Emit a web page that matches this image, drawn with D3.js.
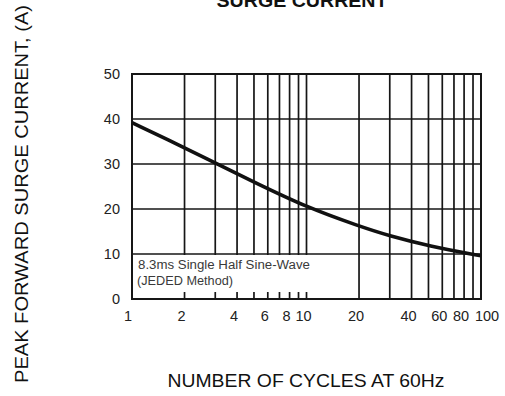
<!DOCTYPE html>
<html><head><meta charset="utf-8">
<script src="https://cdn.jsdelivr.net/npm/d3@7"></script>
<style>body{margin:0;background:#fff}svg{display:block}text{font-family:"Liberation Sans",Arial,sans-serif}</style>
</head><body><svg id="c" width="505" height="396"></svg>
<script>
const cycles = [1, 2, 3, 5, 10, 20, 30, 50, 100];
const current = [39.2, 33.6, 30.2, 26.0, 20.4, 16.2, 14.0, 11.8, 9.6];
const xGrid = [2,3,4,5,6,7,8,9,10,20,30,40,50,60,70,80,90];
const xTickLabels = [1,2,4,6,8,10,20,40,60,80,100];
const yTicks = [0,10,20,30,40,50];
const titleText = "SURGE CURRENT";
const xTitle = "NUMBER OF CYCLES AT 60Hz";
const yTitle = "PEAK FORWARD SURGE CURRENT, (A)";
const note = ["8.3ms Single Half Sine-Wave", "(JEDED Method)"];

const svg = d3.select("#c");
const L = 132, R = 481, T = 74, B = 299;
const x = d3.scaleLog().domain([1,100]).range([L,R]);
const y = d3.scaleLinear().domain([0,50]).range([B,T]);
const ink = "#161616";

// grid
svg.append("g").selectAll("line").data(xGrid).join("line")
  .attr("x1", d=>x(d)).attr("x2", d=>x(d)).attr("y1", T).attr("y2", B)
  .attr("stroke", ink).attr("stroke-width", 1.7);
svg.append("g").selectAll("line").data(yTicks.slice(1)).join("line")
  .attr("x1", L).attr("x2", R).attr("y1", d=>y(d)).attr("y2", d=>y(d))
  .attr("stroke", ink).attr("stroke-width", 1.7);

// white note box covering grid between 0 and 10 for x in [1,10]
svg.append("rect").attr("x", L).attr("y", y(10)+1).attr("width", x(10)-L+2).attr("height", y(0)-y(10)-1).attr("fill","#fff");
// bottom ticks in note box
svg.append("g").selectAll("line").data(xGrid.filter(d=>d<=10)).join("line")
  .attr("x1", d=>x(d)).attr("x2", d=>x(d)).attr("y1", B-7).attr("y2", B)
  .attr("stroke", ink).attr("stroke-width", 1.7);

// frame
svg.append("rect").attr("x",L).attr("y",T).attr("width",R-L).attr("height",B-T)
  .attr("fill","none").attr("stroke",ink).attr("stroke-width",2);

// note text
svg.append("text").attr("x", 138).attr("y", 269).attr("font-size", 12.5).attr("fill","#3a3a3a")
  .attr("textLength", 172).attr("lengthAdjust","spacingAndGlyphs").text(note[0]);
svg.append("text").attr("x", 137).attr("y", 285).attr("font-size", 12.5).attr("fill","#3a3a3a")
  .attr("textLength", 96).attr("lengthAdjust","spacingAndGlyphs").text(note[1]);

// curve
const line = d3.line().x((d,i)=>x(cycles[i])).y(d=>y(d)).curve(d3.curveBasis);
svg.append("path").datum(current).attr("d", line).attr("fill","none")
  .attr("stroke","#111").attr("stroke-width",3.6).attr("stroke-linecap","butt");

// y tick labels
svg.append("g").selectAll("text").data(yTicks).join("text")
  .attr("x", 120).attr("y", d=>y(d)+5).attr("text-anchor","end")
  .attr("font-size", 14.5).attr("fill","#222").text(d=>d);
// x tick labels
svg.append("g").selectAll("text").data(xTickLabels).join("text")
  .attr("x", d=>x(d)).attr("dx", d=> d===100 ? 6 : (d===1 ? -4 : -3)).attr("y", 321).attr("text-anchor","middle")
  .attr("font-size", 14.5).attr("fill","#222").text(d=>d);

// titles
svg.append("text").attr("x", 302).attr("y", 7).attr("text-anchor","middle")
  .attr("font-size", 19).attr("font-weight","bold").attr("fill","#111")
  .attr("textLength",171).attr("lengthAdjust","spacingAndGlyphs").text(titleText);
svg.append("text").attr("x", 306).attr("y", 387).attr("text-anchor","middle")
  .attr("font-size", 18).attr("fill","#111")
  .attr("textLength",277).attr("lengthAdjust","spacingAndGlyphs").text(xTitle);
svg.append("text").attr("transform","translate(28,194) rotate(-90)").attr("text-anchor","middle")
  .attr("font-size", 18).attr("fill","#111")
  .attr("textLength",378).attr("lengthAdjust","spacingAndGlyphs").text(yTitle);
</script></body></html>
